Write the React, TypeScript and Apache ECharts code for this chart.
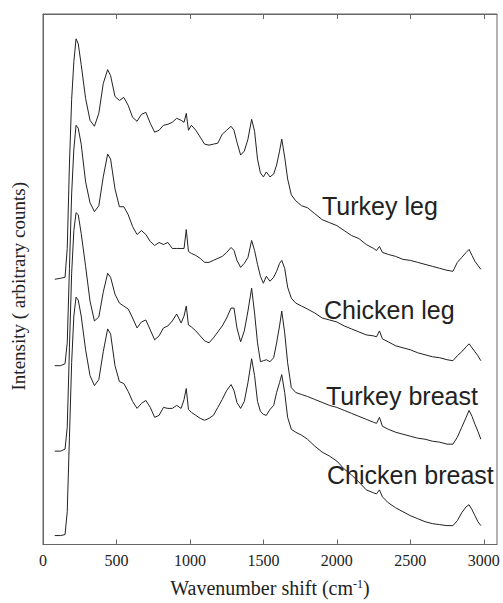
import React, { useEffect, useRef } from "react";
import * as echarts from "echarts";

// Wavenumber shift (cm^-1) sampling points shared by all spectra
const WAVENUMBERS = [
  80, 120, 150, 165, 180, 195, 210, 225, 240, 260,
  290, 320, 350, 380, 410, 440, 460, 490, 520, 550,
  580, 610, 640, 670, 700, 730, 760, 790, 820, 850,
  880, 910, 940, 960, 975, 990, 1010, 1040, 1070, 1100,
  1130, 1160, 1190, 1220, 1250, 1280, 1300, 1320, 1345, 1370,
  1395, 1420, 1440, 1460, 1480, 1500, 1520, 1545, 1570, 1590,
  1610, 1625, 1645, 1665, 1690, 1720, 1760, 1800, 1850, 1900,
  1950, 2000, 2050, 2100, 2150, 2200, 2250, 2270, 2290, 2310,
  2350, 2400, 2450, 2500, 2550, 2600, 2650, 2700, 2750, 2790,
  2820, 2850, 2880, 2900, 2920, 2940, 2960, 2980,
];

// Intensities (arbitrary counts, offset spectra)
const TURKEY_LEG = [
  267, 268, 269, 298, 383, 448, 486, 509, 504, 483,
  449, 427, 421, 434, 464, 478, 472, 451, 447, 450,
  442, 430, 426, 433, 435, 424, 415, 417, 422, 423,
  425, 429, 427, 425, 434, 417, 422, 417, 410, 403,
  402, 403, 404, 413, 417, 421, 417, 405, 392, 396,
  408, 428, 416, 388, 374, 370, 375, 370, 373, 382,
  396, 408, 390, 368, 352, 346, 341, 339, 333, 327,
  324, 321, 316, 311, 308, 302, 298, 296, 300, 294,
  292, 290, 287, 286, 284, 282, 280, 278, 276, 275,
  284, 289, 294, 297, 291, 285, 281, 277,
];

const CHICKEN_LEG = [
  180, 180, 182, 203, 278, 353, 398, 422, 419, 403,
  365, 344, 335, 341, 370, 393, 388, 358, 340, 340,
  332, 320, 312, 316, 312, 305, 301, 304, 302, 304,
  298, 298, 298, 298, 317, 295, 293, 291, 288, 284,
  284, 286, 288, 290, 294, 299, 296, 286, 279, 283,
  289, 306, 296, 282, 270, 263, 270, 265, 269, 275,
  283, 286, 278, 259, 248, 243, 240, 237, 233, 228,
  226, 224, 220, 217, 214, 211, 210, 209, 215, 207,
  204, 200, 198, 196, 193, 191, 189, 188, 186, 185,
  190, 194, 199, 202, 198, 194, 190, 185,
];

const TURKEY_BREAST = [
  94, 94, 96, 118, 198, 273, 316, 334, 332, 313,
  280, 245, 225, 229, 254, 273, 269, 252, 243, 240,
  237, 228, 218, 224, 226, 216, 206, 210, 218, 220,
  225, 232, 223, 230, 240, 221, 219, 215, 210, 205,
  203, 208, 214, 220, 228, 238, 238, 218, 204, 215,
  235, 258, 233, 203, 184, 185, 186, 184, 188, 203,
  220, 235, 213, 183, 158, 153, 151, 149, 146, 143,
  140, 138, 135, 132, 129, 126, 123, 122, 128, 119,
  116, 113, 111, 109, 107, 106, 104, 103, 101, 101,
  108, 118, 128, 135, 129, 121, 114, 106,
];

const CHICKEN_BREAST = [
  9, 9, 10, 33, 108, 183, 230, 249, 246, 230,
  196, 170, 160, 166, 194, 217, 212, 180, 164, 162,
  154, 144, 137, 142, 145, 138, 128, 130, 138, 137,
  137, 140, 137, 146, 157, 136, 133, 130, 127, 125,
  127, 130, 138, 146, 155, 161, 155, 143, 137, 144,
  163, 187, 170, 144, 134, 131, 130, 136, 140, 153,
  163, 171, 153, 128, 116, 113, 110, 106, 99, 93,
  89, 84, 76, 70, 63, 55, 52, 51, 55, 48,
  42, 37, 33, 29, 26, 23, 21, 20, 19, 19,
  24, 32, 38, 40, 35, 29, 23, 19,
];

const SERIES_NAMES = ["Turkey leg", "Chicken leg", "Turkey breast", "Chicken breast"];
const X_TICKS = [0, 500, 1000, 1500, 2000, 2500, 3000];

const SERIF = '"Liberation Serif", "Times New Roman", serif';
const SANS = '"Liberation Sans", Arial, sans-serif';

export default function App() {
  const ref = useRef<HTMLDivElement>(null);

  useEffect(() => {
    if (!ref.current) return;
    const chart = echarts.init(ref.current, null, { renderer: "svg" });
    const all = [TURKEY_LEG, CHICKEN_LEG, TURKEY_BREAST, CHICKEN_BREAST];
    const axisColor = "#666";
    const labelPos = [
      { left: 322, top: 193 },
      { left: 324, top: 297 },
      { left: 326, top: 383 },
      { left: 327, top: 462 },
    ];
    chart.setOption({
      animation: false,
      backgroundColor: "#fff",
      grid: {
        left: 43,
        right: 6,
        top: 14,
        bottom: 55,
        show: true,
        borderColor: axisColor,
        borderWidth: 1,
        backgroundColor: "transparent",
      },
      xAxis: [
        {
          type: "value",
          min: 0,
          max: 3090,
          interval: 500,
          name: "Wavenumber shift (cm{sup|-1})",
          nameLocation: "middle",
          nameGap: 33,
          nameTextStyle: {
            fontFamily: SERIF,
            fontSize: 20,
            color: "#222",
            rich: { sup: { fontFamily: SERIF, fontSize: 12, color: "#222", verticalAlign: "top", padding: [0, 0, 9, 0] } },
          },
          axisLine: { show: true, lineStyle: { color: axisColor } },
          axisTick: { show: true, inside: true, length: 5, customValues: X_TICKS, lineStyle: { color: axisColor } },
          axisLabel: {
            customValues: X_TICKS,
            formatter: (v: number) => String(v),
            margin: 8,
            fontFamily: SERIF,
            fontSize: 16,
            color: "#222",
          },
          splitLine: { show: false },
        },
        {
          type: "value",
          position: "top",
          min: 0,
          max: 3090,
          interval: 500,
          axisLine: { show: true, lineStyle: { color: axisColor } },
          axisTick: { show: true, inside: true, length: 5, customValues: X_TICKS, lineStyle: { color: axisColor } },
          axisLabel: { show: false },
          splitLine: { show: false },
        },
      ],
      yAxis: {
        type: "value",
        min: 0,
        max: 534,
        name: "Intensity ( arbitrary counts)",
        nameLocation: "middle",
        nameGap: 15,
        nameTextStyle: { fontFamily: SERIF, fontSize: 19, color: "#222", padding: [0, 14, 0, 0] },
        axisLine: { show: true, lineStyle: { color: axisColor } },
        axisTick: { show: false },
        axisLabel: { show: false },
        splitLine: { show: false },
      },
      series: all.map((vals, k) => ({
        name: SERIES_NAMES[k],
        type: "line",
        xAxisIndex: 0,
        showSymbol: false,
        symbol: "none",
        data: WAVENUMBERS.map((w, i) => [w, vals[i]]),
        lineStyle: { color: "#222", width: 1 },
      })),
      graphic: SERIES_NAMES.map((n, k) => ({
        type: "text",
        left: labelPos[k].left,
        top: labelPos[k].top,
        style: { text: n, fontFamily: SANS, fontSize: 25, fill: "#222" },
      })),
    });
    return () => chart.dispose();
  }, []);

  return (
    <div
      ref={ref}
      style={{ position: "fixed", left: 0, top: 0, width: 503, height: 603, background: "#fff" }}
    />
  );
}
